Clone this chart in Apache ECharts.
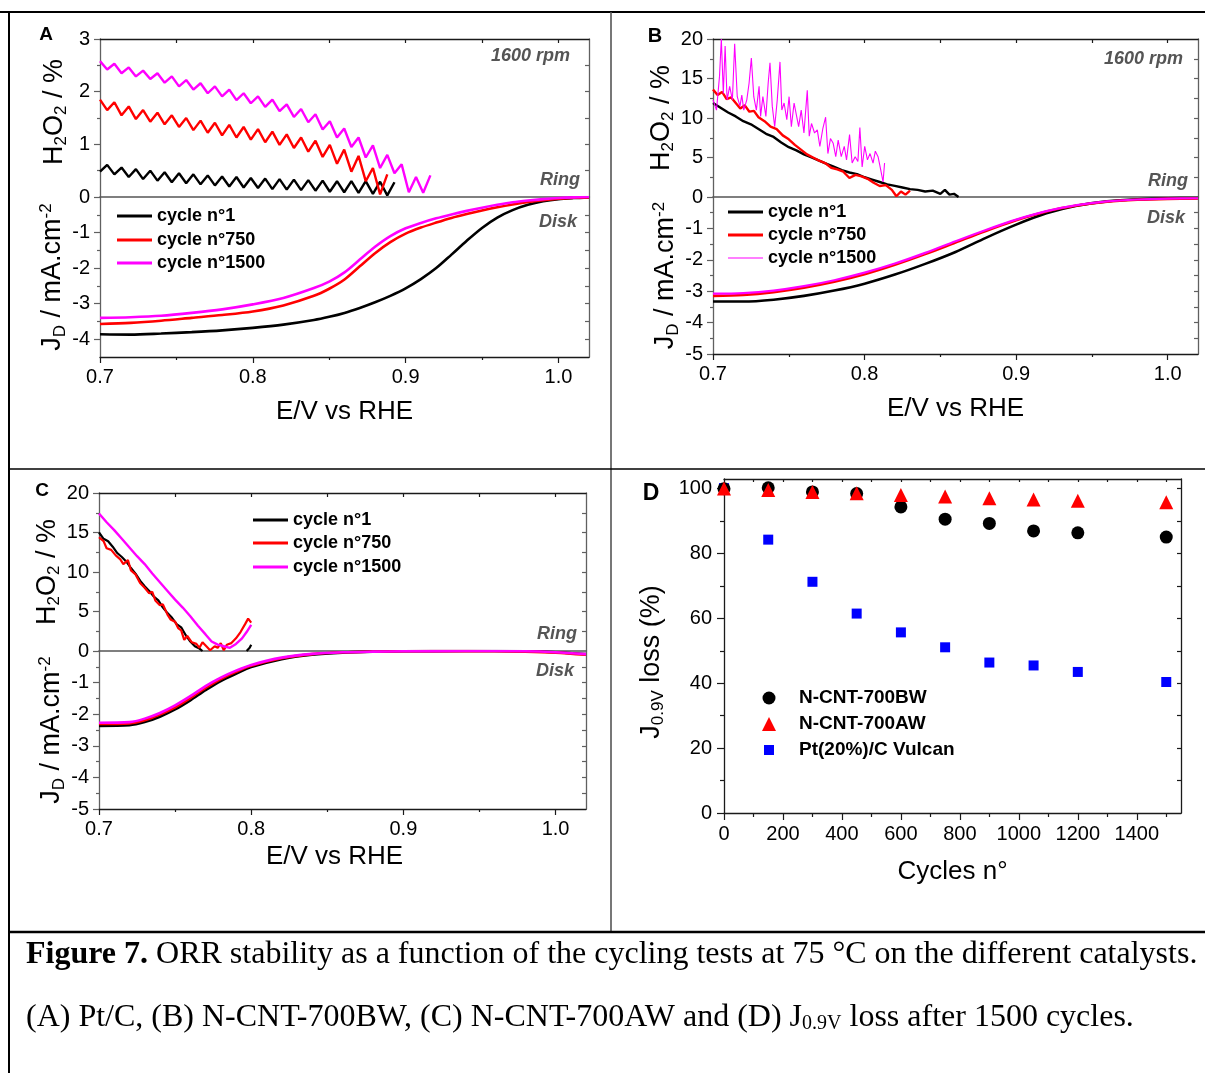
<!DOCTYPE html>
<html><head><meta charset="utf-8">
<script src="https://cdn.jsdelivr.net/npm/echarts@6/dist/echarts.min.js"></script>
<style>html,body{margin:0;padding:0;background:#fff}#c{width:1205px;height:1073px}</style>
</head><body><div id="c"></div>
<script>
// ================= DATA =================
const SERIES_NAMES = ['cycle n°1', 'cycle n°750', 'cycle n°1500'];

// Panel A (Pt/C) – ring H2O2 %
const aRingX = [0.7000,0.7047,0.7094,0.7141,0.7188,0.7235,0.7282,0.7329,0.7376,0.7423,0.7470,0.7517,0.7564,0.7611,0.7658,0.7705,0.7752,0.7799,0.7846,0.7893,0.7940,0.7987,0.8034,0.8081,0.8128,0.8175,0.8222,0.8269,0.8316,0.8363,0.8410,0.8457,0.8504,0.8551,0.8598,0.8645,0.8692,0.8739,0.8786,0.8833,0.8880,0.8927,0.8974,0.9021,0.9068,0.9115,0.9162];
const aRingCycle1 = [0.48,0.61,0.43,0.56,0.38,0.53,0.34,0.50,0.31,0.47,0.28,0.45,0.26,0.43,0.24,0.41,0.22,0.39,0.20,0.38,0.18,0.36,0.17,0.35,0.15,0.34,0.14,0.33,0.13,0.32,0.12,0.31,0.10,0.30,0.09,0.30,0.08,0.30,0.06,0.29,0.03,0.28];
const aRingCycle750 = [1.85,1.65,1.80,1.55,1.72,1.48,1.65,1.43,1.60,1.38,1.55,1.33,1.50,1.27,1.45,1.22,1.41,1.17,1.37,1.13,1.33,1.09,1.29,1.04,1.24,0.99,1.19,0.93,1.13,0.86,1.07,0.76,0.99,0.63,0.90,0.48,0.78,0.30,0.55,0.05,0.43];
const aRingCycle1500 = [2.58,2.42,2.53,2.35,2.46,2.29,2.40,2.24,2.35,2.17,2.29,2.10,2.22,2.04,2.16,1.97,2.10,1.91,2.04,1.84,1.97,1.78,1.91,1.71,1.85,1.63,1.76,1.52,1.67,1.42,1.57,1.28,1.44,1.13,1.30,0.95,1.13,0.75,0.98,0.55,0.80,0.45,0.62,0.09,0.38,0.08,0.41];
// Panel A – disk current
const aDiskX = [0.70,0.72,0.74,0.76,0.78,0.80,0.82,0.84,0.85,0.86,0.87,0.88,0.89,0.90,0.91,0.92,0.93,0.94,0.95,0.96,0.97,0.98,0.99,1.00,1.01,1.02];
const aDiskCycle1 = [-3.86,-3.87,-3.84,-3.80,-3.75,-3.68,-3.59,-3.46,-3.37,-3.26,-3.12,-2.96,-2.78,-2.57,-2.31,-2.00,-1.62,-1.23,-0.87,-0.58,-0.37,-0.22,-0.12,-0.06,-0.03,-0.01];
const aDiskCycle750 = [-3.57,-3.54,-3.48,-3.40,-3.32,-3.22,-3.05,-2.78,-2.58,-2.32,-1.95,-1.58,-1.27,-1.03,-0.86,-0.72,-0.59,-0.48,-0.38,-0.29,-0.21,-0.14,-0.09,-0.05,-0.02,-0.01];
const aDiskCycle1500 = [-3.40,-3.38,-3.34,-3.26,-3.16,-3.02,-2.84,-2.56,-2.38,-2.12,-1.76,-1.40,-1.10,-0.88,-0.73,-0.60,-0.49,-0.39,-0.30,-0.22,-0.15,-0.10,-0.06,-0.03,-0.01,0.00];

// Panel B (N-CNT-700BW) – ring
const bRingCycle1X = [0.700,0.705,0.710,0.715,0.720,0.725,0.730,0.735,0.740,0.745,0.750,0.755,0.760,0.765,0.770,0.775,0.780,0.785,0.790,0.795,0.800,0.805,0.810,0.815,0.820,0.825,0.830,0.835,0.840,0.845,0.850,0.853,0.856,0.859,0.862];
const bRingCycle1 = [11.9,11.3,10.7,10.2,9.6,9.2,8.6,8.0,7.6,6.9,6.3,5.9,5.4,5.0,4.6,4.2,3.8,3.4,3.1,2.9,2.5,2.2,1.9,1.6,1.4,1.2,1.0,0.9,0.7,0.8,0.4,0.9,0.3,0.4,0.0];
const bRingCycle750X = [0.700,0.703,0.706,0.709,0.712,0.715,0.718,0.721,0.724,0.727,0.730,0.734,0.738,0.742,0.746,0.750,0.754,0.758,0.762,0.766,0.770,0.774,0.778,0.782,0.786,0.790,0.794,0.798,0.802,0.806,0.810,0.814,0.818,0.821,0.824,0.827,0.830];
const bRingCycle750 = [13.6,12.9,13.3,12.4,12.6,11.9,11.2,11.6,10.8,10.9,10.1,9.6,8.9,8.6,7.8,7.3,6.6,6.0,5.4,5.0,4.6,4.3,3.7,3.5,3.2,2.4,2.8,2.6,2.3,1.8,1.4,1.5,0.9,0.1,0.7,0.3,0.8];
const bRingCycle1500X = [0.7000,0.7023,0.7043,0.7055,0.7068,0.7080,0.7093,0.7110,0.7128,0.7143,0.7160,0.7178,0.7190,0.7203,0.7223,0.7238,0.7253,0.7269,0.7286,0.7304,0.7314,0.7329,0.7349,0.7364,0.7376,0.7391,0.7407,0.7424,0.7442,0.7454,0.7469,0.7487,0.7502,0.7517,0.7535,0.7550,0.7565,0.7582,0.7600,0.7622,0.7635,0.7650,0.7670,0.7688,0.7705,0.7725,0.7743,0.7758,0.7775,0.7793,0.7810,0.7826,0.7846,0.7866,0.7881,0.7901,0.7918,0.7938,0.7956,0.7969,0.7984,0.8001,0.8019,0.8036,0.8056,0.8071,0.8089,0.8107,0.8122,0.8132];
const bRingCycle1500 = [12.3,11.0,15.3,20.0,13.1,19.1,12.3,14.0,12.3,19.4,12.7,11.5,12.9,11.0,12.3,14.4,17.6,12.7,11.0,14.0,10.2,12.7,10.2,14.4,17.0,11.5,8.9,12.3,17.1,11.0,11.9,9.8,12.7,8.9,11.9,10.4,8.9,11.0,8.1,13.5,7.7,9.3,8.1,8.5,6.4,8.7,10.1,5.5,7.4,6.8,5.1,7.2,5.1,6.4,4.7,7.9,4.3,5.1,4.5,8.8,3.8,6.4,4.7,5.5,4.3,5.8,5.1,3.4,1.9,4.3];
// Panel B – disk
const bDiskX = [0.70,0.72,0.74,0.76,0.78,0.80,0.82,0.84,0.86,0.88,0.90,0.92,0.94,0.96,0.98,1.00,1.02];
const bDiskCycle1 = [-3.33,-3.33,-3.27,-3.15,-2.98,-2.76,-2.47,-2.13,-1.75,-1.30,-0.88,-0.52,-0.28,-0.14,-0.07,-0.04,-0.03];
const bDiskCycle750 = [-3.15,-3.12,-3.03,-2.89,-2.70,-2.46,-2.16,-1.82,-1.45,-1.08,-0.74,-0.46,-0.27,-0.15,-0.09,-0.06,-0.05];
const bDiskCycle1500 = [-3.08,-3.06,-2.98,-2.84,-2.65,-2.41,-2.12,-1.78,-1.41,-1.05,-0.72,-0.45,-0.26,-0.14,-0.08,-0.05,-0.04];

// Panel C (N-CNT-700AW) – ring
const cRingCycle1X = [0.700,0.703,0.706,0.709,0.712,0.715,0.718,0.721,0.724,0.727,0.730,0.733,0.736,0.739,0.742,0.745,0.748,0.751,0.754,0.757,0.760,0.763,0.766,0.768,0.782,0.797,0.799,0.800];
const cRingCycle1 = [15.0,14.2,13.9,13.2,12.4,11.9,11.3,10.5,9.8,8.9,8.2,7.6,6.9,6.4,5.5,4.8,4.2,3.4,3.0,2.0,1.2,0.6,0.3,0.0,null,0.0,0.4,0.8];
const cRingCycle750X = [0.700,0.703,0.705,0.708,0.711,0.714,0.716,0.719,0.721,0.724,0.727,0.730,0.733,0.735,0.737,0.740,0.742,0.745,0.747,0.750,0.752,0.754,0.756,0.758,0.761,0.764,0.766,0.768,0.771,0.773,0.776,0.778,0.780,0.782,0.784,0.787,0.790,0.793,0.796,0.798,0.800];
const cRingCycle750 = [14.4,13.9,13.0,12.8,12.1,11.6,11.0,11.5,10.2,9.7,8.6,8.0,7.3,7.5,6.4,5.8,5.9,4.6,4.0,3.7,2.9,2.6,1.4,1.9,1.1,0.9,0.4,1.1,0.5,0.1,0.6,0.4,1.0,0.1,0.8,1.0,1.6,2.4,3.4,4.1,3.6];
const cRingCycle1500X = [0.700,0.705,0.710,0.715,0.720,0.725,0.730,0.735,0.740,0.745,0.750,0.755,0.760,0.765,0.770,0.774,0.778,0.782,0.786,0.790,0.794,0.797,0.800];
const cRingCycle1500 = [17.4,16.3,15.3,14.2,13.1,12.0,11.0,9.8,8.7,7.6,6.5,5.5,4.4,3.2,2.1,1.2,0.8,0.6,0.4,0.9,1.6,2.4,3.3];
// Panel C – disk
const cDiskX = [0.70,0.72,0.73,0.74,0.75,0.76,0.77,0.78,0.79,0.80,0.82,0.84,0.86,0.88,0.90,0.94,0.98,1.00,1.02];
const cDiskCycle1 = [-2.37,-2.35,-2.25,-2.08,-1.85,-1.56,-1.24,-0.95,-0.72,-0.51,-0.26,-0.12,-0.05,-0.02,-0.01,0.00,-0.01,-0.04,-0.10];
const cDiskCycle750 = [-2.31,-2.29,-2.19,-2.01,-1.78,-1.49,-1.17,-0.89,-0.66,-0.47,-0.23,-0.10,-0.04,-0.02,-0.01,0.00,-0.02,-0.05,-0.12];
const cDiskCycle1500 = [-2.27,-2.25,-2.14,-1.96,-1.72,-1.43,-1.11,-0.84,-0.62,-0.44,-0.21,-0.09,-0.04,-0.02,-0.01,0.00,-0.01,-0.04,-0.10];

// Panel D – J0.9V loss vs cycles
const dCycles = [0, 150, 300, 450, 600, 750, 900, 1050, 1200, 1500];
const dBW = [100.0, 100.3, 99.0, 98.5, 94.4, 90.6, 89.3, 87.0, 86.4, 85.1];
const dAW = [100.1, 99.6, 99.0, 98.6, 98.1, 97.6, 97.1, 96.7, 96.3, 95.8];
const dPt = [100.2, 84.3, 71.3, 61.5, 55.7, 51.1, 46.4, 45.5, 43.5, 40.4];
const dNames = ['N-CNT-700BW', 'N-CNT-700AW', 'Pt(20%)/C Vulcan'];

// Tick values
const eTicks = [0.7, 0.8, 0.9, 1.0];
const eMinor = [0.75, 0.85, 0.95];
const eTopTicks = [0.75, 0.8, 0.85, 0.9, 0.95, 1.0];
const aRingTicks = [0, 1, 2, 3];
const aRingMinor = [0.5, 1.5, 2.5];
const aRingRight = [0.5, 1, 1.5, 2, 2.5];
const aDiskTicks = [-4, -3, -2, -1];
const aDiskMinor = [-3.5, -2.5, -1.5, -0.5];
const aDiskRight = [-4, -3.5, -3, -2.5, -2, -1.5, -1, -0.5];
const bcRingTicks = [0, 5, 10, 15, 20];
const bcRingMinor = [2.5, 7.5, 12.5, 17.5];
const bcRingRight = [2.5, 5, 7.5, 10, 12.5, 15, 17.5];
const bcDiskTicks = [-5, -4, -3, -2, -1];
const bcDiskMinor = [-4.5, -3.5, -2.5, -1.5, -0.5];
const bcDiskRight = [-4.5, -4, -3.5, -3, -2.5, -2, -1.5, -1, -0.5];
const dXTicks = [0, 200, 400, 600, 800, 1000, 1200, 1400];
const dXMinor = [100, 300, 500, 700, 900, 1100, 1300, 1500];
const dXTop = [100, 200, 300, 400, 500, 600, 700, 800, 900, 1000, 1100, 1200, 1300, 1400, 1500];
const dYTicks = [0, 20, 40, 60, 80, 100];
const dYMinor = [10, 30, 50, 70, 90];
const dYRight = [10, 20, 30, 40, 50, 60, 70, 80, 90, 100];

// ================= CHART =================
const FONT = "'Liberation Sans', Arial, Helvetica, sans-serif";
const SERIF = "'Liberation Serif', 'Times New Roman', serif";
const COL = ['#000000', '#ff0000', '#ff00ff'];
const SIDE = '#606060';
const TICK_FS = 20;

const option = { animation: false, backgroundColor: '#ffffff', textStyle: { fontFamily: FONT },
  grid: [], xAxis: [], yAxis: [], series: [], legend: [], graphic: [] };

function addGrid(left, top, width, height) {
  option.grid.push({ left, top, width, height, show: false, containLabel: false, outerBoundsMode: 'none' });
  return option.grid.length - 1;
}
function addAxis(kind, gi, pos, min, max, c) {
  const color = c.lineColor || '#1a1a1a';
  const a = {
    type: 'value', gridIndex: gi, position: pos, min, max, silent: true,
    splitLine: { show: false }, minorTick: { show: false }, minorSplitLine: { show: false },
    axisPointer: { show: false },
    axisLine: { show: c.line !== false, onZero: false, lineStyle: { color, width: c.lineWidth || 1.3 } },
    axisTick: { show: !!c.ticks, customValues: c.ticks, inside: !!c.inside, length: c.tickLen || 6,
      lineStyle: { color, width: 1.2 } },
    axisLabel: { show: !!c.labels, customValues: c.labels, formatter: c.fmt || (v => String(v)), fontSize: TICK_FS,
      fontFamily: FONT, color: '#000', margin: c.margin != null ? c.margin : 10, showMinLabel: true, showMaxLabel: true, hideOverlap: false }
  };
  if (c.name) {
    Object.assign(a, { name: c.name, nameLocation: 'middle', nameGap: c.nameGap, nameRotate: c.nameRotate,
      nameTextStyle: Object.assign({ fontSize: 26, fontFamily: FONT, color: '#000' }, c.nameStyle || {}) });
  }
  const list = kind === 'x' ? option.xAxis : option.yAxis;
  list.push(a);
  return list.length - 1;
}
function addLine(name, xi, yi, xs, ys, color, width, smooth, z) {
  option.series.push({
    type: 'line', name, xAxisIndex: xi, yAxisIndex: yi, color, z: z || 2,
    data: ys.map((v, i) => [xs[i], v === null ? '-' : v]),
    showSymbol: false, symbol: 'none', smooth: smooth || false, connectNulls: false, clip: true,
    lineStyle: { color, width }, silent: true, emphasis: { disabled: true }
  });
}

const RICH = {
  n: { fontSize: 27, fontFamily: FONT, color: '#000', lineHeight: 31 },
  s: { fontSize: 17, fontFamily: FONT, color: '#000', lineHeight: 17, verticalAlign: 'bottom' },
  p: { fontSize: 17, fontFamily: FONT, color: '#000', lineHeight: 17, verticalAlign: 'top' }
};
const ringName = '{n|H}{s|2}{n|O}{s|2}{n| / %}';
const diskName = '{n|J}{s|D}{n| / mA.cm}{p|-2}';
const fmt1 = v => Number(v).toFixed(1);

function panel(p) {
  const gr = addGrid(p.left, p.top, p.width, p.ringH);
  const gd = addGrid(p.left, p.top + p.ringH, p.width, p.diskH);
  const xr = addAxis('x', gr, 'bottom', 0.7, 1.02, { lineColor: '#555555', lineWidth: 1.6 });
  addAxis('x', gr, 'top', 0.7, 1.02, { ticks: eTopTicks, inside: true, tickLen: 4 });
  const yr = addAxis('y', gr, 'left', p.ringMin, p.ringMax, { ticks: p.ringTicks, labels: p.ringTicks, lineColor: SIDE,
    name: ringName, nameGap: 30, nameRotate: 90, nameStyle: { rich: RICH, padding: p.ringNamePad || 0 } });
  addAxis('y', gr, 'left', p.ringMin, p.ringMax, { line: false, ticks: p.ringMinor, tickLen: 3, lineColor: SIDE });
  addAxis('y', gr, 'right', p.ringMin, p.ringMax, { ticks: p.ringRight, inside: true, tickLen: 4, lineColor: SIDE });
  const xd = addAxis('x', gd, 'bottom', 0.7, 1.02, { ticks: eTicks, labels: eTicks, fmt: fmt1, margin: 10,
    name: 'E/V vs RHE', nameGap: p.xNameGap, nameStyle: { padding: p.xNamePad || 0 } });
  addAxis('x', gd, 'bottom', 0.7, 1.02, { line: false, ticks: eMinor, tickLen: 3 });
  const yd = addAxis('y', gd, 'left', p.diskMin, 0, { ticks: p.diskTicks, labels: p.diskTicks, lineColor: SIDE,
    name: diskName, nameGap: 30, nameRotate: 90, nameStyle: { rich: RICH } });
  addAxis('y', gd, 'left', p.diskMin, 0, { line: false, ticks: p.diskMinor, tickLen: 3, lineColor: SIDE });
  addAxis('y', gd, 'right', p.diskMin, 0, { ticks: p.diskRight, inside: true, tickLen: 4, lineColor: SIDE });
  return { xr, yr, xd, yd };
}

// ---- Panel A
const A = panel({ left: 100, top: 39, width: 489, ringH: 158, diskH: 160, ringMin: 0, ringMax: 3,
  ringTicks: aRingTicks, ringMinor: aRingMinor, ringRight: aRingRight, diskMin: -4.5,
  diskTicks: aDiskTicks, diskMinor: aDiskMinor, diskRight: aDiskRight, xNameGap: 42, ringNamePad: [0, 0, 0, 12] });
addLine(SERIES_NAMES[0], A.xr, A.yr, aRingX, aRingCycle1, COL[0], 2.4);
addLine(SERIES_NAMES[1], A.xr, A.yr, aRingX, aRingCycle750, COL[1], 2.4);
addLine(SERIES_NAMES[2], A.xr, A.yr, aRingX, aRingCycle1500, COL[2], 2.4);
addLine(SERIES_NAMES[0], A.xd, A.yd, aDiskX, aDiskCycle1, COL[0], 2.6, 0.3);
addLine(SERIES_NAMES[1], A.xd, A.yd, aDiskX, aDiskCycle750, COL[1], 2.6, 0.3);
addLine(SERIES_NAMES[2], A.xd, A.yd, aDiskX, aDiskCycle1500, COL[2], 2.6, 0.3);

// ---- Panel B
const B = panel({ left: 713, top: 39, width: 485, ringH: 158, diskH: 157, ringMin: 0, ringMax: 20,
  ringTicks: bcRingTicks, ringMinor: bcRingMinor, ringRight: bcRingRight, diskMin: -5,
  diskTicks: bcDiskTicks, diskMinor: bcDiskMinor, diskRight: bcDiskRight, xNameGap: 42 });
addLine(SERIES_NAMES[0], B.xr, B.yr, bRingCycle1X, bRingCycle1, COL[0], 2.4);
addLine(SERIES_NAMES[1], B.xr, B.yr, bRingCycle750X, bRingCycle750, COL[1], 2.4);
addLine(SERIES_NAMES[2], B.xr, B.yr, bRingCycle1500X, bRingCycle1500, COL[2], 1.1);
addLine(SERIES_NAMES[0], B.xd, B.yd, bDiskX, bDiskCycle1, COL[0], 2.6, 0.3);
addLine(SERIES_NAMES[1], B.xd, B.yd, bDiskX, bDiskCycle750, COL[1], 2.6, 0.3);
addLine(SERIES_NAMES[2], B.xd, B.yd, bDiskX, bDiskCycle1500, COL[2], 2.2, 0.3);

// ---- Panel C
const C = panel({ left: 99, top: 493, width: 487, ringH: 158, diskH: 158, ringMin: 0, ringMax: 20,
  ringTicks: bcRingTicks, ringMinor: bcRingMinor, ringRight: bcRingRight, diskMin: -5,
  diskTicks: bcDiskTicks, diskMinor: bcDiskMinor, diskRight: bcDiskRight, xNameGap: 35, xNamePad: [0, 16, 0, 0] });
addLine(SERIES_NAMES[0], C.xr, C.yr, cRingCycle1X, cRingCycle1, COL[0], 2.2);
addLine(SERIES_NAMES[1], C.xr, C.yr, cRingCycle750X, cRingCycle750, COL[1], 2.2);
addLine(SERIES_NAMES[2], C.xr, C.yr, cRingCycle1500X, cRingCycle1500, COL[2], 2.4);
addLine(SERIES_NAMES[0], C.xd, C.yd, cDiskX, cDiskCycle1, COL[0], 2.6, 0.3);
addLine(SERIES_NAMES[1], C.xd, C.yd, cDiskX, cDiskCycle750, COL[1], 2.6, 0.3);
addLine(SERIES_NAMES[2], C.xd, C.yd, cDiskX, cDiskCycle1500, COL[2], 2.6, 0.3);

// ---- Panel D
const gD = addGrid(724, 479, 457, 334);
const dX = addAxis('x', gD, 'bottom', 0, 1550, { ticks: dXTicks, labels: dXTicks, margin: 11, tickLen: 7,
  name: 'Cycles n°', nameGap: 46 });
addAxis('x', gD, 'bottom', 0, 1550, { line: false, ticks: dXMinor, tickLen: 4 });
addAxis('x', gD, 'top', 0, 1550, { ticks: dXTop, inside: true, tickLen: 3 });
const dY = addAxis('y', gD, 'left', 0, 103, { ticks: dYTicks, labels: dYTicks, margin: 12, tickLen: 7,
  name: '{n|J}{s|0.9V}{n| loss (%)}', nameGap: 57, nameRotate: 90, nameStyle: { rich: RICH, padding: [0, 32, 0, 0] } });
addAxis('y', gD, 'left', 0, 103, { line: false, ticks: dYMinor, tickLen: 4 });
addAxis('y', gD, 'right', 0, 103, { ticks: dYRight, inside: true, tickLen: 4 });
function addScatter(name, ys, symbol, size, color) {
  option.series.push({ type: 'scatter', name, xAxisIndex: dX, yAxisIndex: dY, symbol, symbolSize: size,
    itemStyle: { color, opacity: 1 }, color, data: ys.map((v, i) => [dCycles[i], v]), silent: true, emphasis: { disabled: true } });
}
addScatter(dNames[2], dPt, 'rect', 10, '#0000ff');
addScatter(dNames[0], dBW, 'circle', 13, '#000000');
addScatter(dNames[1], dAW, 'triangle', 14, '#ff0000');

// ---- Legends (one item each)
function legendItem(name, left, cy, w, h, icon, fontSize, padLeft) {
  option.legend.push({ data: [name], left, top: cy - 11, orient: 'horizontal', padding: 0, itemGap: 0,
    itemWidth: w, itemHeight: h, icon, selectedMode: false, itemStyle: { borderWidth: 0, opacity: 1 },
    textStyle: { fontFamily: FONT, fontSize, fontWeight: 'bold', color: '#000', lineHeight: 22, padding: [0, 0, 0, padLeft || 0] } });
}
[216, 240, 263].forEach((cy, i) => legendItem(SERIES_NAMES[i], 117, cy, 35, 3, 'rect', 18, 0));
[212, 235, 258].forEach((cy, i) => legendItem(SERIES_NAMES[i], 728, cy, 35, i === 2 ? 1.2 : 3, 'rect', 18, 0));
[520, 543, 567].forEach((cy, i) => legendItem(SERIES_NAMES[i], 253, cy, 35, 3, 'rect', 18, 0));
legendItem(dNames[0], 762.5, 698, 13, 13, 'circle', 19, 18.5);
legendItem(dNames[1], 762, 724, 14, 14, 'triangle', 19, 18);
legendItem(dNames[2], 764, 750, 10, 10, 'rect', 19, 20);

// ---- Annotations, frame lines, caption
const G = option.graphic;
function txt(x, y, text, font, fill, align, extra) {
  G.push(Object.assign({ type: 'text', x, y, silent: true,
    style: Object.assign({ text, font, fill, align: align || 'left', verticalAlign: 'middle' }, extra || {}) }));
}
function ln(x1, y1, x2, y2, stroke, w) {
  G.push({ type: 'line', silent: true, shape: { x1, y1, x2, y2 }, style: { stroke, lineWidth: w } });
}
ln(0, 12, 1205, 12, '#000', 2);
ln(9, 12, 9, 1073, '#000', 2);
ln(611, 12, 611, 931, '#555', 1.6);
ln(9, 469, 1205, 469, '#000', 1.6);
ln(9, 932, 1205, 932, '#000', 2.5);

const LB = "bold 19px 'Liberation Sans', Arial, sans-serif";
txt(46, 35, 'A', LB, '#000', 'center');
txt(655, 36, 'B', "bold 20px 'Liberation Sans', Arial, sans-serif", '#000', 'center');
txt(42, 491, 'C', LB, '#000', 'center');
txt(651, 494, 'D', "bold 23px 'Liberation Sans', Arial, sans-serif", '#000', 'center');
const IT = "italic bold 18px 'Liberation Sans', Arial, sans-serif";
const GR = '#555555';
txt(570, 56, '1600 rpm', IT, GR, 'right');
txt(580, 180, 'Ring', IT, GR, 'right');
txt(577, 222, 'Disk', IT, GR, 'right');
txt(1183, 59, '1600 rpm', IT, GR, 'right');
txt(1188, 181, 'Ring', IT, GR, 'right');
txt(1185, 218, 'Disk', IT, GR, 'right');
txt(577, 634, 'Ring', IT, GR, 'right');
txt(574, 671, 'Disk', IT, GR, 'right');

txt(26, 955, '{b|Figure 7.} ORR stability as a function of the cycling tests at 75 °C on the different catalysts.',
  "32px 'Liberation Serif', 'Times New Roman', serif", '#000', 'left',
  { rich: { b: { fontWeight: 'bold', fontSize: 32, fontFamily: SERIF, fill: '#000' } } });
txt(26, 1018, '(A) Pt/C, (B) N-CNT-700BW, (C) N-CNT-700AW and (D) J{s|0.9V} loss after 1500 cycles.',
  "32px 'Liberation Serif', 'Times New Roman', serif", '#000', 'left',
  { rich: { s: { fontSize: 20, fontFamily: SERIF, lineHeight: 20, verticalAlign: 'bottom', fill: '#000' } } });

const chart = echarts.init(document.getElementById('c'), null, { renderer: 'canvas' });
chart.setOption(option);
</script>
</body></html>
